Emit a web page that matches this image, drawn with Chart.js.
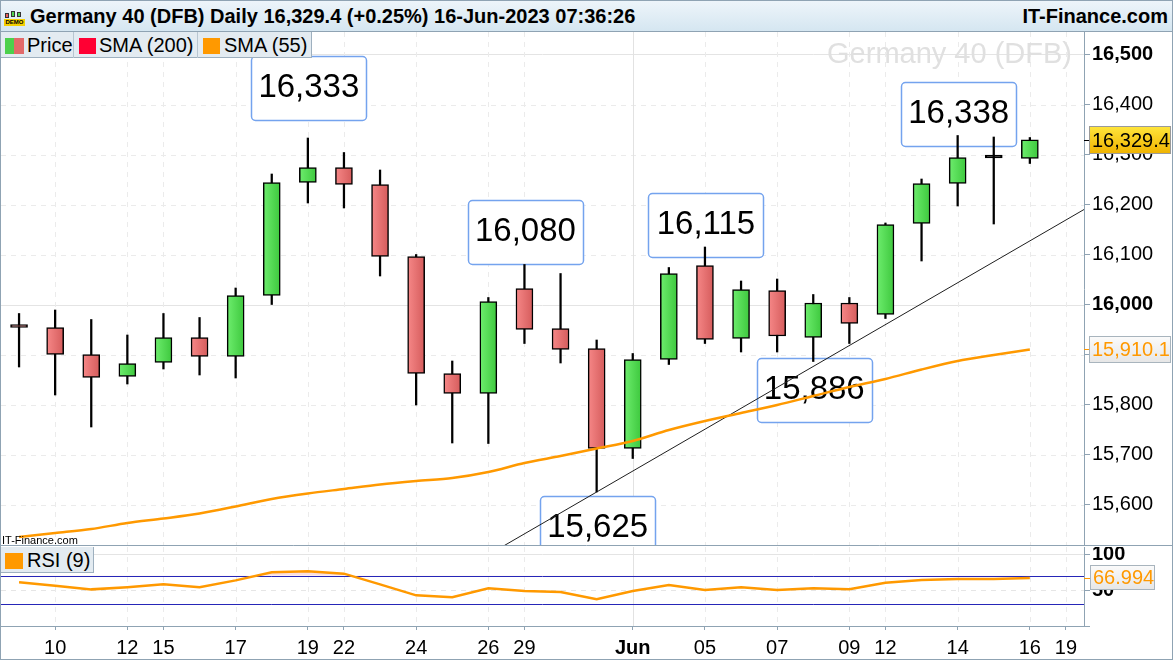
<!DOCTYPE html>
<html>
<head>
<meta charset="utf-8">
<title>Germany 40 (DFB) Daily</title>
<script src="https://cdn.jsdelivr.net/npm/chart.js@4.4.0/dist/chart.umd.min.js"></script>
<style>
    html, body { margin: 0; padding: 0; background: #fff; }
    #frame { position: relative; width: 1173px; height: 660px; overflow: hidden; font-family: "Liberation Sans", Arial, sans-serif; }
    #header { position: absolute; left: 0; top: 0; width: 1173px; height: 32px; box-sizing: border-box;
              border-bottom: 1px solid #8fa3b3; background: linear-gradient(#eef5fa, #d5e6f1); }
    #title { position: absolute; left: 30px; top: 0; line-height: 32px; font-size: 20px; font-weight: bold; color: #000; }
    #brand { position: absolute; right: 5px; top: 0; line-height: 32px; font-size: 20px; font-weight: bold; color: #000; }
    #demo { position: absolute; left: 4px; top: 11px; width: 21px; height: 15px; }
    #demo i { position: absolute; width: 4px; display: block; border: 1px solid #333; box-sizing: border-box; }
    #demo span { position: absolute; left: 0; bottom: 0; width: 21px; height: 7px; background: #f6d000; color: #000;
                 font-size: 6px; font-weight: bold; line-height: 7px; text-align: center; letter-spacing: 0; }
    .pane { position: absolute; left: 0; }
    .legend { position: absolute; left: 0; height: 26px; box-sizing: border-box; background: #e3ebf1;
              border-right: 1px solid #9eb0bf; border-bottom: 1px solid #9eb0bf; font-size: 20px; line-height: 26px; color: #000; }
    .legend .sw { position: absolute; top: 6px; width: 17px; height: 16px; }
    .legend .tx { position: absolute; top: 0; }
    .legend .sep { position: absolute; top: 0; width: 1px; height: 26px; background: #b8c6d1; }
    #outline { position: absolute; left: 0; top: 0; width: 1173px; height: 660px; box-sizing: border-box;
               border: 1px solid #8fa3b3; pointer-events: none; }
</style>
</head>
<body>
<div id="frame">
    <div class="pane" style="top:32px;"><canvas id="price-chart" width="1173" height="514"></canvas></div>
    <div class="pane" style="top:547px;"><canvas id="rsi-chart" width="1173" height="113"></canvas></div>

    <div id="header">
        <div id="demo">
            <i style="left:1px;top:2px;height:5px;background:#e86060;"></i>
            <i style="left:7px;top:0;height:6px;background:#50d050;"></i>
            <i style="left:13px;top:1px;height:5px;background:#50d050;"></i>
            <span>DEMO</span>
        </div>
        <span id="title">Germany 40 (DFB) Daily 16,329.4 (+0.25%) 16-Jun-2023 07:36:26</span>
        <span id="brand">IT-Finance.com</span>
    </div>

    <div class="legend" style="top:32px;width:312px;">
        <span class="sw" style="left:5px;width:19px;background:linear-gradient(90deg,#4cd04c 0,#4cd04c 50%,#e26a6a 50%,#e26a6a 100%);"></span>
        <span class="tx" style="left:27px;">Price</span>
        <span class="sep" style="left:73px;"></span>
        <span class="sw" style="left:79px;background:#ff0033;"></span>
        <span class="tx" style="left:99px;">SMA (200)</span>
        <span class="sep" style="left:197px;"></span>
        <span class="sw" style="left:203px;background:#ff9900;"></span>
        <span class="tx" style="left:224px;">SMA (55)</span>
    </div>

    <div class="legend" style="top:547px;width:94px;">
        <span class="sw" style="left:5px;width:18px;background:#ff9900;"></span>
        <span class="tx" style="left:27px;">RSI (9)</span>
    </div>

    <div id="outline"></div>
</div>

<script>
const FONT = '"Liberation Sans", Arial, sans-serif';

// trading days shown, May 9 to June 16 2023
const dates = ["09 May", "10 May", "11 May", "12 May", "15 May", "16 May", "17 May", "18 May", "19 May",
               "22 May", "23 May", "24 May", "25 May", "26 May", "29 May", "30 May", "31 May",
               "01 Jun", "02 Jun", "05 Jun", "06 Jun", "07 Jun", "08 Jun", "09 Jun",
               "12 Jun", "13 Jun", "14 Jun", "15 Jun", "16 Jun"];

const opens  = [15958, 15954, 15900, 15856, 15884, 15934, 15896, 16018, 16244,
                16274, 16240, 16096, 15862, 15822, 16032, 15952, 15912,
                15712, 15890, 16078, 15932, 16028, 15934, 16003,
                15980, 16162, 16242, 16293, 16292];
const highs  = [15982, 15989, 15970, 15939, 15982, 15974, 16033, 16261, 16333,
                16304, 16269, 16100, 15887, 16014, 16080, 16062, 15929,
                15902, 16074, 16115, 16047, 16051, 16020, 16014,
                16163, 16251, 16338, 16335, 16334];
const lows   = [15875, 15819, 15755, 15841, 15871, 15859, 15853, 16000, 16203,
                16193, 16057, 15799, 15723, 15722, 15922, 15883, 15625,
                15692, 15880, 15922, 15905, 15905, 15886, 15922,
                15972, 16087, 16197, 16161, 16282];
const closes = [15954, 15900, 15854, 15882, 15934, 15896, 16018, 16244, 16274,
                16240, 16096, 15862, 15822, 16006, 15950, 15910, 15712,
                15890, 16062, 15930, 16030, 15937, 16003, 15962,
                16160, 16242, 16294, 16293, 16329.4];

const sma55 = [15535, 15543, 15551, 15563, 15572, 15582, 15596, 15611, 15622,
               15631, 15640, 15647, 15653, 15665, 15683, 15697, 15712,
               15727, 15749, 15767, 15783, 15799, 15817, 15835,
               15851, 15870, 15887, 15899, 15910.1];

const rsi9 = [61, 56, 51, 54, 58, 54, 63.5, 74.8, 76.2,
              72.9, 58, 42.7, 40, 52.5, 48.7, 47.3, 37.2,
              48.7, 57.1, 50.1, 53.9, 50.1, 52.5, 51.1,
              60.3, 64, 65.5, 65.5, 66.994];

// x axis labels (index into the day list, 29 = Jun 19)
const tickIndex  = [1, 3, 4, 6, 8, 9, 11, 13, 14, 17, 19, 21, 23, 24, 26, 28, 29];
const tickLabels = ["10", "12", "15", "17", "19", "22", "24", "26", "29", "Jun", "05", "07", "09", "12", "14", "16", "19"];

// support line drawn under the lows
const trendX = [13.3, 29.5];
const trendY = [15512, 16190];

// callout boxes on swing highs / lows
const calloutIndex = [8, 14, 19, 26, 22, 16];
const calloutText  = ["16,333", "16,080", "16,115", "16,338", "15,886", "15,625"];
const calloutSide  = ["high", "high", "high", "high", "low", "low"];

const lastPrice = 16329.4;
const lastSma = 15910.1;
const lastRsi = 66.994;
const rsiLevels = [30, 70];
const boldLevels = [16000, 16500];

const calloutShift = [-18, 0, 10, 11, -3, 4];

function hLine(ctx, x1, x2, y) {
    ctx.beginPath();
    ctx.moveTo(x1, y);
    ctx.lineTo(x2, y);
    ctx.stroke();
}

function vLine(ctx, x, y1, y2) {
    ctx.beginPath();
    ctx.moveTo(x, y1);
    ctx.lineTo(x, y2);
    ctx.stroke();
}

function drawVerticalGrid(chart) {
    const {ctx, chartArea: a, scales: {x}} = chart;
    ctx.lineWidth = 1;
    tickIndex.forEach(function (v, k) {
        const px = Math.round(x.getPixelForValue(v)) + 0.5;
        const monthStart = tickLabels[k] === "Jun";
        ctx.setLineDash(monthStart ? [] : [5, 5]);
        ctx.strokeStyle = monthStart ? "#e2e2e2" : "#ebebeb";
        vLine(ctx, px, a.top, a.bottom);
    });
    ctx.setLineDash([]);
}

function drawTag(ctx, left, yc, w, h, text, topColor, bottomColor, border, color) {
    const top = Math.round(yc - h / 2);
    const g = ctx.createLinearGradient(0, top, 0, top + h);
    g.addColorStop(0, topColor);
    g.addColorStop(1, bottomColor);
    ctx.fillStyle = g;
    ctx.fillRect(left, top, w, h);
    ctx.strokeStyle = border;
    ctx.lineWidth = 1;
    ctx.strokeRect(left + 0.5, top + 0.5, w - 1, h - 1);
    ctx.fillStyle = color;
    ctx.font = "20px " + FONT;
    ctx.textAlign = "left";
    ctx.textBaseline = "middle";
    ctx.fillText(text, left + 3, top + h / 2 + 1);
}

function bodyFill(c) {
    if (c.type !== "data") {
        return "#888";
    }
    const i = c.dataIndex;
    if (closes[i] === opens[i]) {
        return "#000";
    }
    const up = closes[i] > opens[i];
    const chart = c.chart;
    if (!chart.chartArea || !chart.scales.x) {
        return up ? "#55dd55" : "#e67070";
    }
    const px = chart.scales.x.getPixelForValue(i);
    const g = chart.ctx.createLinearGradient(px - 8, 0, px + 8, 0);
    if (up) {
        g.addColorStop(0, "#6cec6c");
        g.addColorStop(1, "#3fc93f");
    } else {
        g.addColorStop(0, "#f58686");
        g.addColorStop(1, "#d65d5d");
    }
    return g;
}

const priceDecor = {
    id: "priceDecor",
    beforeDatasetsDraw(chart) {
        const {ctx, chartArea: a, scales: {x, y}} = chart;
        ctx.save();
        ctx.beginPath();
        ctx.rect(a.left, a.top, a.right - a.left, a.bottom - a.top);
        ctx.clip();

        ctx.lineWidth = 1;
        y.ticks.forEach(function (t) {
            const py = Math.round(y.getPixelForValue(t.value)) + 0.5;
            const solid = boldLevels.includes(t.value);
            ctx.setLineDash(solid ? [] : [5, 5]);
            ctx.strokeStyle = solid ? "#e4e4e4" : "#ebebeb";
            hLine(ctx, a.left, a.right, py);
        });
        ctx.setLineDash([]);
        drawVerticalGrid(chart);

        // watermark
        ctx.fillStyle = "#e0e0e0";
        ctx.font = "29px " + FONT;
        ctx.textAlign = "right";
        ctx.textBaseline = "alphabetic";
        ctx.fillText("Germany 40 (DFB)", 1072, 31);

        // callouts
        calloutIndex.forEach(function (i, k) {
            const w = 115, h = 64;
            const cx = x.getPixelForValue(i) + 1;
            let top;
            if (calloutSide[k] === "high") {
                top = y.getPixelForValue(highs[i]) + calloutShift[k] - h;
            } else {
                top = y.getPixelForValue(lows[i]) + calloutShift[k];
            }
            top = Math.round(top) + 0.5;
            const left = Math.round(cx - w / 2) + 0.5;
            ctx.beginPath();
            ctx.roundRect(left, top, w, h, 4);
            ctx.fillStyle = "#ffffff";
            ctx.fill();
            ctx.strokeStyle = "#74a3ee";
            ctx.lineWidth = 1.5;
            ctx.stroke();
            ctx.fillStyle = "#000";
            ctx.font = "33px " + FONT;
            ctx.textAlign = "center";
            ctx.textBaseline = "alphabetic";
            ctx.fillText(calloutText[k], cx, top + 40);
        });
        ctx.restore();
    },
    afterDatasetsDraw(chart) {
        const {ctx, chartArea: a} = chart;
        ctx.save();
        ctx.fillStyle = "#000";
        ctx.font = "11px " + FONT;
        ctx.textAlign = "left";
        ctx.textBaseline = "alphabetic";
        ctx.fillText("IT-Finance.com", a.left + 1, a.bottom - 2);
        ctx.restore();
    },
    afterDraw(chart) {
        const {ctx, chartArea: a, scales: {y}} = chart;
        ctx.save();
        ctx.strokeStyle = "#8fa3b3";
        ctx.lineWidth = 1;
        vLine(ctx, 0.5, 0, chart.height);
        hLine(ctx, 0, chart.width, a.bottom - 0.5);

        const pLast = y.getPixelForValue(lastPrice);
        const pSma = y.getPixelForValue(lastSma);
        ctx.strokeStyle = "#000";
        hLine(ctx, a.right, a.right + 6, Math.round(pLast) + 0.5);
        ctx.strokeStyle = "#ff9900";
        hLine(ctx, a.right, a.right + 6, Math.round(pSma) + 0.5);

        drawTag(ctx, a.right + 5, pLast, 82, 28, lastPrice.toLocaleString("en-US", {minimumFractionDigits: 1}),
                "#ffe63c", "#efb200", "#9a9a9a", "#000");
        drawTag(ctx, a.right + 5, pSma, 82, 27, lastSma.toLocaleString("en-US", {minimumFractionDigits: 1}),
                "#fbfbfb", "#e6e6e6", "#a8b4bd", "#ff9900");
        ctx.restore();
    }
};

const rsiDecor = {
    id: "rsiDecor",
    beforeDatasetsDraw(chart) {
        const {ctx, chartArea: a, scales: {y}} = chart;
        ctx.save();
        ctx.lineWidth = 1;
        y.ticks.forEach(function (t) {
            if (t.value === 0) {
                return;
            }
            const py = Math.round(y.getPixelForValue(t.value)) + 0.5;
            ctx.setLineDash(t.value === 50 ? [5, 5] : []);
            ctx.strokeStyle = t.value === 50 ? "#e6e6e6" : "#e4e4e4";
            hLine(ctx, a.left, a.right, py);
        });
        ctx.setLineDash([]);
        drawVerticalGrid(chart);

        ctx.strokeStyle = "#2626b8";
        rsiLevels.forEach(function (v) {
            hLine(ctx, a.left, a.right, Math.round(y.getPixelForValue(v)) + 0.5);
        });
        ctx.restore();
    },
    afterDraw(chart) {
        const {ctx, chartArea: a, scales: {y}} = chart;
        ctx.save();
        ctx.strokeStyle = "#8fa3b3";
        ctx.lineWidth = 1;
        vLine(ctx, 0.5, 0, chart.height);
        const pr = y.getPixelForValue(lastRsi);
        ctx.strokeStyle = "#ff9900";
        hLine(ctx, a.right, a.right + 6, Math.round(pr) + 0.5);
        drawTag(ctx, a.right + 6, pr, 65, 25, lastRsi.toFixed(3), "#fbfbfb", "#e6e6e6", "#a8b4bd", "#ff9900");
        ctx.restore();
    }
};

const xBase = {
    type: "linear",
    min: -0.5,
    max: 29.5,
    offset: false
};

new Chart(document.getElementById("price-chart"), {
    type: "bar",
    data: {
        datasets: [
            {
                type: "line",
                label: "SMA (55)",
                data: sma55.map((v, i) => ({x: i, y: v})),
                borderColor: "#ff9900",
                borderWidth: 2.5,
                pointRadius: 0,
                tension: 0.3,
                order: 0
            },
            {
                type: "line",
                label: "Trend",
                data: trendX.map((v, i) => ({x: v, y: trendY[i]})),
                borderColor: "#1e1e1e",
                borderWidth: 1,
                pointRadius: 0,
                order: 0
            },
            {
                type: "bar",
                label: "Price",
                data: dates.map((d, i) => ({x: i, y: [opens[i], closes[i]]})),
                backgroundColor: bodyFill,
                borderColor: "#000",
                borderWidth: 1.5,
                borderSkipped: false,
                barThickness: 17,
                minBarLength: 3,
                grouped: false,
                order: 1
            },
            {
                type: "bar",
                label: "Range",
                data: dates.map((d, i) => ({x: i, y: [lows[i], highs[i]]})),
                backgroundColor: "#000",
                borderWidth: 0,
                barThickness: 1.6,
                grouped: false,
                order: 2
            }
        ]
    },
    options: {
        responsive: false,
        animation: false,
        events: [],
        layout: {padding: {left: 1, right: 0, top: 0, bottom: 0}},
        scales: {
            x: Object.assign({}, xBase, {display: false}),
            y: {
                position: "right",
                min: 15517,
                max: 16545,
                afterFit: function (s) {
                    s.width = 89;
                    s.paddingTop = 0;
                    s.paddingBottom = 0;
                },
                ticks: {
                    stepSize: 100,
                    includeBounds: false,
                    padding: 2,
                    color: "#000",
                    font: (c) => ({family: FONT, size: 20, weight: c.tick && boldLevels.includes(c.tick.value) ? "bold" : "normal"}),
                    callback: (v) => v.toLocaleString("en-US")
                },
                grid: {drawOnChartArea: false, drawTicks: true, tickLength: 6, tickColor: "#8fa3b3"},
                border: {color: "#8fa3b3"}
            }
        },
        plugins: {
            legend: {display: false},
            tooltip: {enabled: false}
        }
    },
    plugins: [priceDecor]
});

new Chart(document.getElementById("rsi-chart"), {
    type: "line",
    data: {
        datasets: [
            {
                label: "RSI (9)",
                data: rsi9.map((v, i) => ({x: i, y: v})),
                borderColor: "#ff9900",
                borderWidth: 2.5,
                pointRadius: 0,
                tension: 0,
                fill: {target: {value: 70}, above: "rgba(240,150,150,0.3)", below: "rgba(0,0,0,0)"}
            }
        ]
    },
    options: {
        responsive: false,
        animation: false,
        events: [],
        layout: {padding: {left: 1, right: 0, top: 0, bottom: 0}},
        scales: {
            x: Object.assign({}, xBase, {
                afterBuildTicks: function (s) {
                    s.ticks = tickIndex.map((v) => ({value: v}));
                },
                afterFit: function (s) {
                    s.height = 34;
                    s.paddingLeft = 0;
                    s.paddingRight = 0;
                },
                ticks: {
                    autoSkip: false,
                    maxRotation: 0,
                    minRotation: 0,
                    padding: 6,
                    color: "#000",
                    font: (c) => ({family: FONT, size: 20, weight: c.tick && c.tick.value === 17 ? "bold" : "normal"}),
                    callback: (v) => tickLabels[tickIndex.indexOf(v)]
                },
                grid: {drawOnChartArea: false, drawTicks: true, tickLength: 4, tickColor: "#8fa3b3"},
                border: {color: "#8fa3b3"}
            }),
            y: {
                position: "right",
                min: 0,
                max: 110,
                afterFit: function (s) {
                    s.width = 89;
                    s.paddingTop = 0;
                    s.paddingBottom = 0;
                },
                ticks: {
                    stepSize: 50,
                    includeBounds: false,
                    padding: 2,
                    color: "#000",
                    font: {family: FONT, size: 20, weight: "bold"},
                    callback: (v) => (v === 0 ? "" : v)
                },
                grid: {drawOnChartArea: false, drawTicks: true, tickLength: 6, tickColor: "#8fa3b3"},
                border: {color: "#8fa3b3"}
            }
        },
        plugins: {
            legend: {display: false},
            tooltip: {enabled: false}
        }
    },
    plugins: [rsiDecor]
});
</script>
</body>
</html>
